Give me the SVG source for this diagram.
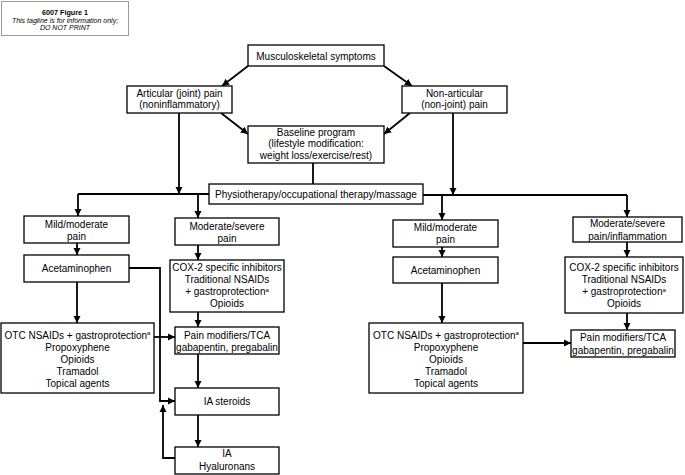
<svg xmlns="http://www.w3.org/2000/svg" width="685" height="475" viewBox="0 0 685 475">
<style>
.b{fill:#fff;stroke:#000;stroke-width:1.3}
.t{font-family:"Liberation Sans",Arial,sans-serif;font-size:10px;text-anchor:middle;fill:#000}
.c{fill:none;stroke:#000;stroke-width:1.8}
.sup{font-size:6px}
</style>
<defs>
<marker id="ah" viewBox="0 0 10 10" refX="10" refY="5" markerWidth="4" markerHeight="4" orient="auto" markerUnits="strokeWidth">
<path d="M0,0 L10,5 L0,10 z" fill="#000"/>
</marker>
</defs>
<rect width="685" height="475" fill="#fff"/>
<g id="tagline">
<rect x="1.5" y="1.5" width="127" height="34" fill="#fff" stroke="#000" stroke-width="0.8" stroke-dasharray="1,1"/>
<text x="65" y="15" class="t" style="font-size:7.2px;font-weight:bold">6007 Figure 1</text>
<text x="65" y="22.5" class="t" style="font-size:7px;font-style:italic">This tagline is for information only;</text>
<text x="65" y="29.5" class="t" style="font-size:7px;font-style:italic">DO NOT PRINT</text>
</g>
<g id="connectors">
<path class="c" d="M248,66 L222,86" marker-end="url(#ah)"/>
<path class="c" d="M384,66 L412,86" marker-end="url(#ah)"/>
<path class="c" d="M221,113 L248,134" marker-end="url(#ah)"/>
<path class="c" d="M410,113 L384,134" marker-end="url(#ah)"/>
<path class="c" d="M179,113 V194" marker-end="url(#ah)"/>
<path class="c" d="M313,163 V184"/>
<path class="c" d="M453,113 V195" marker-end="url(#ah)"/>
<path class="c" d="M78,194 H209"/>
<path class="c" d="M78,194 V216" marker-end="url(#ah)"/>
<path class="c" d="M198,194 V218" marker-end="url(#ah)"/>
<path class="c" d="M423,195 H627"/>
<path class="c" d="M442,195 V220" marker-end="url(#ah)"/>
<path class="c" d="M627,195 V217" marker-end="url(#ah)"/>
<path class="c" d="M77,243 V255" marker-end="url(#ah)"/>
<path class="c" d="M198,245 V260" marker-end="url(#ah)"/>
<path class="c" d="M77,282 V323" marker-end="url(#ah)"/>
<path class="c" d="M198,312 V327" marker-end="url(#ah)"/>
<path class="c" d="M154,337 H175" marker-end="url(#ah)"/>
<path class="c" d="M198,354 V388" marker-end="url(#ah)"/>
<path class="c" d="M198,415 V447" marker-end="url(#ah)"/>
<path class="c" d="M129,268 H160 V401 H175" marker-end="url(#ah)"/>
<path class="c" d="M175,458 H163 V405" marker-end="url(#ah)"/>
<path class="c" d="M442,247 V257" marker-end="url(#ah)"/>
<path class="c" d="M627,242 V257" marker-end="url(#ah)"/>
<path class="c" d="M442,283 V323" marker-end="url(#ah)"/>
<path class="c" d="M627,313 V330" marker-end="url(#ah)"/>
<path class="c" d="M523,343 H571" marker-end="url(#ah)"/>
</g>
<g id="musculoskeletal">
<rect class="b" x="248" y="45" width="136" height="21"/>
<text class="t" x="316" y="59.5">Musculoskeletal symptoms</text>
</g>
<g id="articular">
<rect class="b" x="127" y="86" width="105" height="27"/>
<text class="t" x="179.5" y="96.5">Articular (joint) pain</text>
<text class="t" x="179.5" y="108">(noninflammatory)</text>
</g>
<g id="nonarticular">
<rect class="b" x="402" y="86" width="105" height="27"/>
<text class="t" x="454.5" y="96.5">Non-articular</text>
<text class="t" x="454.5" y="108">(non-joint) pain</text>
</g>
<g id="baseline">
<rect class="b" x="248" y="126" width="136" height="37"/>
<text class="t" x="316" y="135.5">Baseline program</text>
<text class="t" x="316" y="147">(lifestyle modification:</text>
<text class="t" x="316" y="158.5">weight loss/exercise/rest)</text>
</g>
<g id="physio">
<rect class="b" x="209" y="184" width="214" height="20"/>
<text class="t" x="316" y="197.5">Physiotherapy/occupational therapy/massage</text>
</g>
<g id="mild-left">
<rect class="b" x="24" y="216" width="105" height="27"/>
<text class="t" x="76.5" y="227.5">Mild/moderate</text>
<text class="t" x="76.5" y="239.5">pain</text>
</g>
<g id="moderate-left">
<rect class="b" x="175" y="218" width="104" height="27"/>
<text class="t" x="227" y="229.5">Moderate/severe</text>
<text class="t" x="227" y="241.5">pain</text>
</g>
<g id="acetaminophen-left">
<rect class="b" x="24" y="255" width="105" height="27"/>
<text class="t" x="76.5" y="272">Acetaminophen</text>
</g>
<g id="cox-left">
<rect class="b" x="170" y="260" width="114" height="52"/>
<text class="t" x="227" y="271">COX-2 specific inhibitors</text>
<text class="t" x="227" y="283">Traditional NSAIDs</text>
<text class="t" x="227" y="295">+ gastroprotection<tspan class="sup" dy="-3.5">a</tspan></text>
<text class="t" x="227" y="307">Opioids</text>
</g>
<g id="otc-left">
<rect class="b" x="1" y="323" width="153" height="70"/>
<text class="t" x="77.5" y="338.5">OTC NSAIDs + gastroprotection<tspan class="sup" dy="-3.5">a</tspan></text>
<text class="t" x="77.5" y="350.5">Propoxyphene</text>
<text class="t" x="77.5" y="362.5">Opioids</text>
<text class="t" x="77.5" y="374.5">Tramadol</text>
<text class="t" x="77.5" y="386.5">Topical agents</text>
</g>
<g id="painmod-left">
<rect class="b" x="175" y="327" width="104" height="27"/>
<text class="t" x="227" y="338.5">Pain modifiers/TCA</text>
<text class="t" x="227" y="350.5">gabapentin, pregabalin</text>
</g>
<g id="iasteroids">
<rect class="b" x="175" y="388" width="104" height="27"/>
<text class="t" x="227" y="405">IA steroids</text>
</g>
<g id="hyaluronans">
<rect class="b" x="175" y="447" width="104" height="27"/>
<text class="t" x="227" y="456.5">IA</text>
<text class="t" x="227" y="469.5">Hyaluronans</text>
</g>
<g id="mild-right">
<rect class="b" x="393" y="220" width="105" height="27"/>
<text class="t" x="445.5" y="230.5">Mild/moderate</text>
<text class="t" x="445.5" y="242.5">pain</text>
</g>
<g id="moderate-right">
<rect class="b" x="573" y="217" width="109" height="25"/>
<text class="t" x="627.5" y="227">Moderate/severe</text>
<text class="t" x="627.5" y="239.5">pain/inflammation</text>
</g>
<g id="acetaminophen-right">
<rect class="b" x="393" y="257" width="105" height="26"/>
<text class="t" x="445.5" y="273.5">Acetaminophen</text>
</g>
<g id="cox-right">
<rect class="b" x="565" y="257" width="118" height="56"/>
<text class="t" x="624" y="271">COX-2 specific inhibitors</text>
<text class="t" x="624" y="283">Traditional NSAIDs</text>
<text class="t" x="624" y="295">+ gastroprotection<tspan class="sup" dy="-3.5">a</tspan></text>
<text class="t" x="624" y="307">Opioids</text>
</g>
<g id="otc-right">
<rect class="b" x="369" y="323" width="154" height="70"/>
<text class="t" x="446" y="338.5">OTC NSAIDs + gastroprotection<tspan class="sup" dy="-3.5">a</tspan></text>
<text class="t" x="446" y="350.5">Propoxyphene</text>
<text class="t" x="446" y="362.5">Opioids</text>
<text class="t" x="446" y="374.5">Tramadol</text>
<text class="t" x="446" y="386.5">Topical agents</text>
</g>
<g id="painmod-right">
<rect class="b" x="571" y="330" width="104" height="27"/>
<text class="t" x="623" y="341">Pain modifiers/TCA</text>
<text class="t" x="623" y="353.5">gabapentin, pregabalin</text>
</g>
</svg>
